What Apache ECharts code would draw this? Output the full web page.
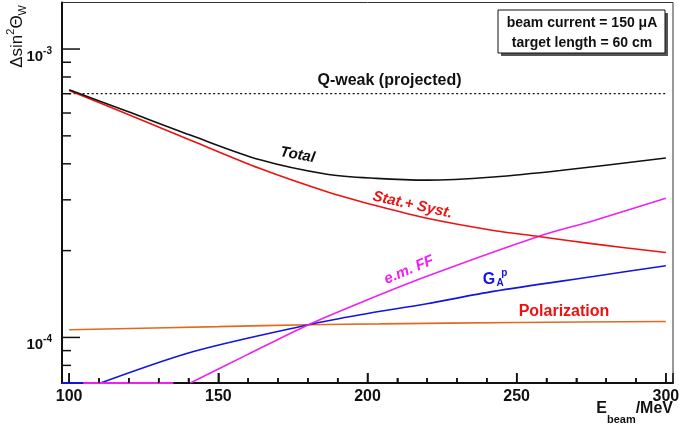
<!DOCTYPE html>
<html>
<head>
<meta charset="utf-8">
<script src="https://cdn.jsdelivr.net/npm/echarts@6/dist/echarts.min.js"></script>
<style>
  html, body { margin: 0; padding: 0; background: #fff; }
  #chart { width: 679px; height: 430px; }
</style>
</head>
<body>
<div id="chart"></div>
<script>
// Uncertainty budget on sin^2(theta_W) versus beam energy
const FONT = '"Liberation Sans", Arial, Helvetica, sans-serif';

// Axis ranges
const X_MIN = 97.6, X_MAX = 302.4;
const Y_MIN = 6.95e-5, Y_MAX = 1.45e-3;

// Q-weak projected uncertainty (horizontal reference)
const qweakX = [100, 300];
const qweakValue = 7.0e-4;

// [E_beam (MeV), uncertainty]
const totalErr = [[100, 7.22e-4], [119.4, 6.08e-4], [141.7, 4.98e-4], [164, 4.13e-4], [186.4, 3.68e-4],
  [203, 3.56e-4], [219.9, 3.51e-4], [242.2, 3.60e-4], [264.6, 3.79e-4], [300, 4.19e-4]];
const statSystErr = [[100, 7.18e-4], [119.4, 5.95e-4], [141.7, 4.78e-4], [164, 3.85e-4], [186.4, 3.20e-4],
  [203, 2.86e-4], [219.9, 2.59e-4], [242.2, 2.35e-4], [257.3, 2.24e-4], [275.7, 2.11e-4], [300, 1.97e-4]];
const emFFErr = [[140.6, 6.95e-5], [159.6, 8.7e-5], [180.2, 1.107e-4], [197.6, 1.32e-4], [219.9, 1.63e-4],
  [257.3, 2.24e-4], [275.7, 2.54e-4], [300, 3.04e-4]];
const gapErr = [[110.5, 6.95e-5], [141.7, 8.94e-5], [180.2, 1.107e-4], [197.6, 1.199e-4], [219.9, 1.309e-4],
  [242.2, 1.444e-4], [275.7, 1.627e-4], [300, 1.773e-4]];
const polErr = [[100, 1.063e-4], [150, 1.09e-4], [180.2, 1.107e-4], [204.3, 1.114e-4], [250, 1.127e-4], [300, 1.136e-4]];

// Energy spans where a curve lies below the frame and is pinned to its floor
const gapFloorX = [97.6, 104.7];
const emFloorX = [104.7, 134.9];

// Tick values
const xMajorTicks = [100, 150, 200, 250, 300];
const xMinorTicks = [110, 120, 130, 140, 160, 170, 180, 190, 210, 220, 230, 240, 260, 270, 280, 290];
const yMajorTicks = [1e-4, 1e-3];
const yMinorTicks = [8e-5, 9e-5, 2e-4, 3e-4, 4e-4, 5e-4, 6e-4, 7e-4, 8e-4, 9e-4];

const C_RED = '#ee1111', C_MAG = '#f020f0', C_BLUE = '#1414e0', C_ORANGE = '#e2691e', C_BLACK = '#111111';

const GRID = { left: 62, right: 6, top: 2.5, bottom: 47 };

function curve(data, color) {
  return {
    type: 'line', data: data, smooth: 0.3, showSymbol: false, symbol: 'none',
    lineStyle: { color: color, width: 1.6 }, silent: true, z: 3
  };
}
function floorSeg(span, color) {
  return {
    type: 'line', data: span.map(x => [x, Y_MIN]), showSymbol: false, symbol: 'none', clip: false,
    lineStyle: { color: color, width: 2 }, silent: true, z: 4
  };
}
function label(x, y, text, color, size, opts) {
  return Object.assign({
    type: 'text', silent: true, x: x, y: y, z: 12,
    style: Object.assign({ text: text, fontSize: size, fontWeight: 'bold', fontFamily: FONT, fill: color,
                           align: 'center', verticalAlign: 'middle' }, (opts && opts.style) || {})
  }, (opts && opts.el) || {});
}

const option = {
  animation: false,
  backgroundColor: '#ffffff',
  textStyle: { fontFamily: FONT },
  grid: Object.assign({
    show: true, borderColor: '#333', borderWidth: 1, backgroundColor: 'transparent',
    outerBoundsMode: 'none'
  }, GRID),
  xAxis: {
    type: 'value', min: X_MIN, max: X_MAX, splitNumber: 4,
    axisLine: { show: true, onZero: false, lineStyle: { color: C_BLACK, width: 2 } },
    axisTick: { show: true, inside: true, length: 10, lineStyle: { color: C_BLACK, width: 1.5 } },
    minorTick: { show: true, splitNumber: 5, length: 5, lineStyle: { color: C_BLACK, width: 1.5 } },
    splitLine: { show: false },
    axisLabel: {
      margin: 6, color: C_BLACK, fontSize: 16, fontWeight: 'bold', fontFamily: FONT,
      formatter: v => (Math.abs(v % 50) < 1e-6 ? String(Math.round(v)) : '')
    }
  },
  yAxis: {
    type: 'log', logBase: 10, min: Y_MIN, max: Y_MAX,
    axisLine: { show: true, lineStyle: { color: C_BLACK, width: 2 } },
    axisTick: { show: false },
    minorTick: { show: false },
    splitLine: { show: false },
    axisLabel: {
      margin: 10, color: C_BLACK, fontFamily: FONT,
      formatter: v => {
        const e = Math.log10(v);
        if (Math.abs(e - Math.round(e)) > 1e-6) return '';
        return '{b|10}{s|' + Math.round(e) + '}';
      },
      rich: {
        b: { fontSize: 15, fontWeight: 'bold', fontFamily: FONT, color: C_BLACK, padding: [15, 0, 0, 0], verticalAlign: 'middle' },
        s: { fontSize: 10, fontWeight: 'bold', fontFamily: FONT, color: C_BLACK, padding: [4, 0, 0, 0], verticalAlign: 'middle' }
      }
    }
  },
  series: [
    {
      type: 'line', data: qweakX.map(x => [x, qweakValue]), showSymbol: false, symbol: 'none', silent: true,
      lineStyle: { color: C_BLACK, width: 1.3, type: [2, 2.5] }, z: 2
    },
    curve(polErr, C_ORANGE),
    curve(gapErr, C_BLUE),
    curve(emFFErr, C_MAG),
    curve(statSystErr, C_RED),
    curve(totalErr, C_BLACK),
    floorSeg(gapFloorX, C_BLUE),
    floorSeg(emFloorX, C_MAG)
  ]
};

const chart = echarts.init(document.getElementById('chart'), null, { renderer: 'canvas' });
chart.setOption(option);

// Inward energy-axis ticks as short vertical segments; their top end is the
// uncertainty value that sits a fixed number of pixels above the frame floor.
const frameBottom = 430 - GRID.bottom;
function xTickLines(values, len) {
  const top = chart.convertFromPixel({ yAxisIndex: 0 }, frameBottom - len);
  const pts = [];
  values.forEach(v => { pts.push([v, Y_MIN], [v, top], [v, null]); });
  return {
    type: 'line', data: pts, showSymbol: false, symbol: 'none', clip: false, connectNulls: false,
    lineStyle: { color: C_BLACK, width: 1.5 }, silent: true, z: 6
  };
}
option.series.push(xTickLines(xMajorTicks, 10), xTickLines(xMinorTicks, 5));

// Left-axis ticks placed through the log scale
const tickMarks = [];
function addYTicks(values, len) {
  values.forEach(v => {
    const py = chart.convertToPixel({ yAxisIndex: 0 }, v);
    tickMarks.push({ type: 'rect', silent: true, z: 50, zlevel: 1,
      shape: { x: GRID.left, y: py - 0.75, width: len, height: 1.5 },
      style: { fill: C_BLACK } });
  });
}
addYTicks(yMajorTicks, 18);
addYTicks(yMinorTicks, 9);

// Annotation texts, axis titles and the run-conditions box
const annotations = [
  {
    type: 'text', x: 17, y: 5, rotation: Math.PI / 2, silent: true,
    style: {
      text: '{m|Δsin}{sup|2}{m|Θ}{sub|W}', align: 'right', verticalAlign: 'middle',
      rich: {
        m: { fontSize: 17, fontFamily: FONT, fill: C_BLACK, verticalAlign: 'middle' },
        sup: { fontSize: 11, fontFamily: FONT, fill: C_BLACK, padding: [0, 0, 12, 0], verticalAlign: 'middle' },
        sub: { fontSize: 11, fontFamily: FONT, fill: C_BLACK, padding: [12, 0, 0, 0], verticalAlign: 'middle' }
      }
    }
  },
  {
    type: 'text', x: 673, y: 409, silent: true,
    style: {
      text: '{m|E}{sub|beam}{m|/MeV}', align: 'right', verticalAlign: 'middle',
      rich: {
        m: { fontSize: 16, fontWeight: 'bold', fontFamily: FONT, fill: C_BLACK, verticalAlign: 'middle' },
        sub: { fontSize: 11, fontWeight: 'bold', fontFamily: FONT, fill: C_BLACK, padding: [21, 0, 0, 0], verticalAlign: 'middle' }
      }
    }
  },
  { type: 'rect', silent: true, shape: { x: 501, y: 13, width: 167, height: 43 }, style: { fill: '#555' }, z: 10 },
  { type: 'rect', silent: true, shape: { x: 498, y: 10, width: 167, height: 43 }, style: { fill: '#fff', stroke: C_BLACK, lineWidth: 1 }, z: 11 },
  label(582, 22.7, 'beam current = 150 μA', C_BLACK, 14),
  label(582, 43.3, 'target length = 60 cm', C_BLACK, 14),
  label(389.5, 80.7, 'Q-weak (projected)', C_BLACK, 16),
  label(297.5, 155, 'Total', C_BLACK, 15, { style: { fontStyle: 'italic' }, el: { rotation: -10 * Math.PI / 180 } }),
  label(412.5, 205, 'Stat.+ Syst.', C_RED, 15, { style: { fontStyle: 'italic' }, el: { rotation: -12.5 * Math.PI / 180 } }),
  label(409, 270, 'e.m. FF', C_MAG, 15, { style: { fontStyle: 'italic' }, el: { rotation: 23 * Math.PI / 180 } }),
  label(489, 279.2, 'G', C_BLUE, 16),
  label(500, 283, 'A', C_BLUE, 10),
  label(504.3, 273.5, 'p', C_BLUE, 10),
  label(564, 312, 'Polarization', C_RED, 16)
];
option.graphic = annotations.concat(tickMarks);

chart.setOption(option, true);
</script>
</body>
</html>
